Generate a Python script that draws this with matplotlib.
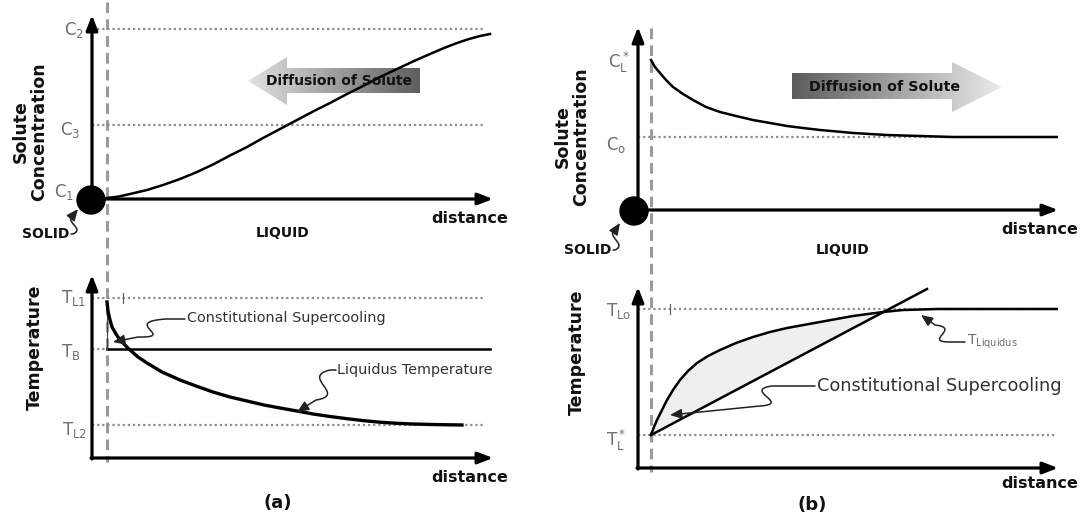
import numpy as np
import matplotlib.pyplot as plt
from matplotlib.patches import Circle, Polygon, FancyArrowPatch
from matplotlib.path import Path
from matplotlib.colors import LinearSegmentedColormap

plt.rcParams['font.family'] = ['DejaVu Sans']
plt.rcParams['mathtext.default'] = 'regular'

W, H = 1082, 521

# ──────────────────────────────────────────────
# Data (arbitrary distance / value units)
# ──────────────────────────────────────────────
# (a) top: solute pile-up ahead of the interface
a_conc_x = [15, 27, 38, 55, 71, 88, 105, 122, 138, 155, 171, 188, 205, 222,
            238, 255, 271, 288, 305, 322, 338, 352, 365, 377, 388, 398]
a_conc_y = [1, 2.5, 5, 9, 14, 20, 27, 35, 43.5, 52, 61, 70, 79, 88,
            96, 105, 113, 122, 130, 138, 145, 151, 156, 160, 163, 165]
a_conc_levels = [170, 74]                       # C2, C3  (C1 sits on the axis)
a_conc_labels = [r'C$_2$', r'C$_3$', r'C$_1$']

# (a) bottom: liquidus temperature
a_liq_x = [15, 16, 18, 20, 24, 28, 33, 38, 46, 55, 70, 88, 104, 121, 138,
           155, 172, 188, 205, 221, 238, 255, 271, 288, 305, 321, 345, 370]
a_liq_y = [156, 147, 138, 131, 124, 118, 113, 108, 101, 95, 86, 78, 72, 66, 61,
           57, 53, 50, 47, 44, 41.5, 39.3, 37.4, 35.8, 34.7, 34, 33.4, 33]
a_temp_levels = [160, 109, 33]                  # T_L1, T_B, T_L2
a_temp_labels = [r'T$_{L1}$', r'T$_B$', r'T$_{L2}$']

# (b) top: solute rejected into the liquid
b_conc_x = [13, 17, 22, 28, 35, 45, 55, 68, 82, 98, 115, 132, 149, 165,
            182, 199, 215, 232, 249, 265, 282, 315, 360, 422]
b_conc_y = [150, 143, 137, 130, 123, 116, 110, 103, 98, 94, 90, 87, 84, 82,
            80, 78.5, 77, 76, 75, 74.5, 74, 73, 73, 73]
b_conc_levels = [150, 73]                       # CL*, Co
b_conc_labels = [r'C$_L^*$', r'C$_o$']

# (b) bottom: liquidus vs. actual temperature gradient
b_liq_x = [13, 16, 19, 24, 29, 35, 42, 50, 59, 70, 82, 98, 115, 132, 149,
           182, 215, 245, 265, 300, 422]
b_liq_y = [33, 41, 48, 58, 68, 78, 88, 97, 105, 112, 118, 125, 131, 136, 140,
           146, 152, 156, 158, 159, 159]
b_grad_x = [13, 289]
b_grad_y = [33, 179]
b_temp_levels = [159, 33]                       # T_Lo, T_L*
b_temp_labels = [r'T$_{Lo}$', r'T$_L^*$']

interface_a = 15
interface_b = 13

GREY = '#6e6e6e'
DOT = (0, (1, 1.3))

fig = plt.figure(figsize=(W / 100, H / 100), dpi=100)


def panel(ox, oy, tx, ty):
    """Axes whose data units equal pixels, origin at the drawn axis corner."""
    ax = fig.add_axes([ox / W, 1 - oy / H, (tx - ox) / W, (oy - ty) / H])
    ax.axis('off')
    ax._lims = (tx - ox, oy - ty)
    arrow = dict(arrowstyle='-|>,head_length=0.9,head_width=0.35', lw=2.3,
                 color='black', shrinkA=0, shrinkB=0, mutation_scale=10)
    ax.annotate('', xy=(0, oy - ty), xytext=(0, -1), arrowprops=arrow,
                annotation_clip=False)
    ax.annotate('', xy=(tx - ox, 0), xytext=(-1, 0), arrowprops=arrow,
                annotation_clip=False)
    return ax


def finish(ax):
    ax.set_xlim(0, ax._lims[0])
    ax.set_ylim(0, ax._lims[1])


def ftext(px, py, s, **kw):
    fig.text(px / W, 1 - py / H, s, **kw)


def squiggle(pts):
    verts = [(x / W, 1 - y / H) for x, y in pts]
    codes = [Path.MOVETO, Path.LINETO, Path.CURVE4, Path.CURVE4, Path.CURVE4, Path.LINETO]
    arr = FancyArrowPatch(path=Path(verts, codes), transform=fig.transFigure,
                          arrowstyle='-|>,head_length=0.7,head_width=0.3',
                          mutation_scale=10, lw=1.1, color='#222222')
    fig.add_artist(arr)


def gradient_arrow(ax, verts, c_left, c_right):
    poly = Polygon(verts, closed=True, facecolor='none', edgecolor='none')
    ax.add_patch(poly)
    xs = [v[0] for v in verts]
    ys = [v[1] for v in verts]
    cmap = LinearSegmentedColormap.from_list('g', [c_left, c_right])
    im = ax.imshow(np.linspace(0, 1, 256).reshape(1, -1), cmap=cmap, aspect='auto',
                   extent=[min(xs), max(xs), min(ys), max(ys)], origin='lower', zorder=1)
    im.set_clip_path(poly)


# ──────────────────────────────────────────────
# (a) upper
# ──────────────────────────────────────────────
ax1 = panel(92, 199, 493, 15)
gradient_arrow(ax1, [(156, 118), (195, 142), (195, 131), (328, 131),
                     (328, 106), (195, 106), (195, 94)], '#e2e2e2', '#5e5e5e')
for lvl in a_conc_levels:
    ax1.plot([0, 393], [lvl, lvl], ls=DOT, color='#8c8c8c', lw=1.6, zorder=2)
ax1.plot([interface_a, interface_a], [197, -263], ls=(0, (3.5, 2)), color='#9b9b9b',
         lw=2.2, clip_on=False, zorder=1)
ax1.plot(a_conc_x, a_conc_y, color='black', lw=1.8, zorder=4)
ax1.add_patch(Circle((-1, -1), 14, color='black', clip_on=False, zorder=5))
finish(ax1)

# ──────────────────────────────────────────────
# (a) lower
# ──────────────────────────────────────────────
ax2 = panel(92, 458, 493, 275)
ax2.plot([0, 393], [a_temp_levels[0]] * 2, ls=DOT, color='#8c8c8c', lw=1.6)
ax2.plot([0, interface_a], [a_temp_levels[1]] * 2, ls=DOT, color='#8c8c8c', lw=1.6)
ax2.plot([interface_a, 398], [a_temp_levels[1]] * 2, color='black', lw=1.8)
ax2.plot([0, 393], [a_temp_levels[2]] * 2, ls=DOT, color='#8c8c8c', lw=1.6)
ax2.plot([31, 31], [155, 165], color='#555555', lw=0.8)
ax2.plot([interface_a, interface_a], [a_liq_y[0], a_temp_levels[1]], color='#444444', lw=0.8)
ax2.plot(a_liq_x, a_liq_y, color='black', lw=2.4, zorder=4)
finish(ax2)

# ──────────────────────────────────────────────
# (b) upper
# ──────────────────────────────────────────────
ax3 = panel(638, 210, 1058, 27)
gradient_arrow(ax3, [(154, 137), (314, 137), (314, 148), (364, 123),
                     (314, 98), (314, 111), (154, 111)], '#5c5c5c', '#ebebeb')
ax3.plot([0, 420], [b_conc_levels[1]] * 2, ls=DOT, color='#8c8c8c', lw=1.6, zorder=2)
ax3.plot([interface_b, interface_b], [182, -262], ls=(0, (3.5, 2)), color='#9b9b9b',
         lw=2.2, clip_on=False, zorder=1)
ax3.plot(b_conc_x, b_conc_y, color='black', lw=1.8, zorder=4)
ax3.add_patch(Circle((-4, -1), 14, color='black', clip_on=False, zorder=5))
finish(ax3)

# ──────────────────────────────────────────────
# (b) lower
# ──────────────────────────────────────────────
ax4 = panel(638, 468, 1058, 287)
for lvl in b_temp_levels:
    ax4.plot([0, 417], [lvl, lvl], ls=DOT, color='#8c8c8c', lw=1.6, zorder=2)
ax4.plot([32, 32], [154, 164], color='#555555', lw=0.8)
grad_on_liq = np.interp(b_liq_x, b_grad_x, b_grad_y)
ax4.fill_between(b_liq_x, b_liq_y, grad_on_liq, where=np.array(b_liq_y) >= grad_on_liq,
                 interpolate=True, color='#efefef', lw=0, zorder=1)
ax4.plot(b_liq_x, b_liq_y, color='black', lw=1.8, zorder=4)
ax4.plot(b_grad_x, b_grad_y, color='black', lw=1.8, zorder=4)
finish(ax4)

# ──────────────────────────────────────────────
# Labels
# ──────────────────────────────────────────────
lab = dict(fontsize=12, color=GREY, ha='right', va='center')
ftext(84, 30, a_conc_labels[0], **lab)
ftext(80, 130, a_conc_labels[1], **lab)
ftext(74, 192, a_conc_labels[2], **lab)
ftext(86, 298, a_temp_labels[0], **lab)
ftext(80, 352, a_temp_labels[1], **lab)
ftext(87, 430, a_temp_labels[2], **lab)
ftext(630, 62, b_conc_labels[0], **lab)
ftext(626, 145, b_conc_labels[1], **lab)
ftext(631, 311, b_temp_labels[0], **lab)
ftext(626, 440, b_temp_labels[1], **lab)

bold = dict(fontweight='bold', color='#111111')
rot = dict(rotation=90, ha='center', va='center', fontsize=12.5, linespacing=1.0, **bold)
ftext(30, 132, 'Solute\nConcentration', **rot)
ftext(35, 347, 'Temperature', **rot)
ftext(572, 137, 'Solute\nConcentration', **rot)
ftext(577, 352, 'Temperature', **rot)

small = dict(fontsize=10, ha='center', va='center', **bold)
ftext(46, 234, 'SOLID', **small)
ftext(283, 233, 'LIQUID', **small)
ftext(588, 250, 'SOLID', **small)
ftext(843, 250, 'LIQUID', **small)

dist = dict(fontsize=11.5, ha='center', va='center', **bold)
ftext(470, 218, 'distance', **dist)
ftext(470, 477, 'distance', **dist)
ftext(1040, 230, 'distance', **dist)
ftext(1040, 483, 'distance', **dist)
ftext(278, 503, '(a)', fontsize=13, ha='center', va='center', **bold)
ftext(812, 505, '(b)', fontsize=13, ha='center', va='center', **bold)

ftext(339, 81, 'Diffusion of Solute', fontsize=10, ha='center', va='center', zorder=6, **bold)
ftext(885, 87, 'Diffusion of Solute', fontsize=10.3, ha='center', va='center', zorder=6, **bold)

note = dict(color='#333333', ha='left', va='center')
ftext(187, 318, 'Constitutional Supercooling', fontsize=10.4, **note)
ftext(337, 370, 'Liquidus Temperature', fontsize=10.4, **note)
ftext(817, 386, 'Constitutional Supercooling', fontsize=12.8, **note)
ftext(967, 342, r'T$_{Liquidus}$', fontsize=10, color=GREY, ha='left', va='center')

# squiggly pointers
squiggle([(71, 234), (73, 234), (86, 228), (62, 222), (74, 214), (78, 209)])
squiggle([(613, 250), (615, 250), (628, 244), (604, 236), (616, 229), (620, 223)])
squiggle([(185, 319), (166, 319), (120, 322), (178, 338), (138, 337), (113, 342)])
squiggle([(336, 370), (330, 370), (300, 377), (348, 395), (316, 400), (297, 412)])
squiggle([(815, 386), (772, 386), (742, 390), (792, 404), (760, 406), (670, 415)])
squiggle([(965, 342), (950, 342), (922, 342), (962, 328), (935, 325), (921, 315)])

fig.savefig('out.png', dpi=100, facecolor='white')
